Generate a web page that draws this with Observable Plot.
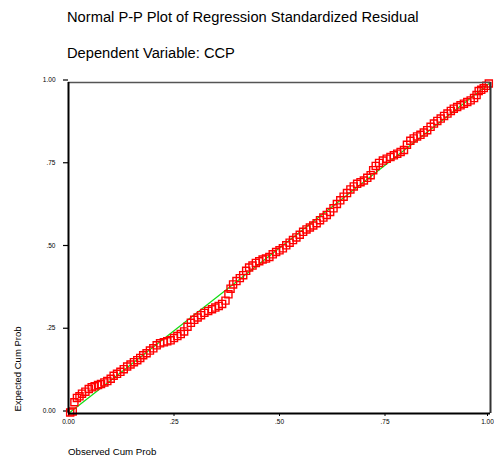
<!DOCTYPE html>
<html>
<head>
<meta charset="utf-8">
<script src="https://cdn.jsdelivr.net/npm/d3@7"></script>
<script src="https://cdn.jsdelivr.net/npm/@observablehq/plot@0.6"></script>
<style>
  html, body { margin: 0; padding: 0; background: #fff; }
  #wrap { position: relative; width: 494px; height: 463px; font-family: "Liberation Sans", Arial, sans-serif; color: #000; }
  .t { position: absolute; white-space: nowrap; line-height: 1; }
  #chart { position: absolute; left: 0; top: 0; }
</style>
</head>
<body>
<div id="wrap">
  <div id="chart"></div>
  <div class="t" style="left:67px; top:9.5px; font-size:14.7px;">Normal P-P Plot of Regression Standardized Residual</div>
  <div class="t" style="left:67px; top:45.5px; font-size:14.7px;">Dependent Variable: CCP</div>
  <div class="t" style="left:68px; top:447px; font-size:9.7px;">Observed Cum Prob</div>
  <div class="t" style="left:-32px; top:363px; width:100px; height:12px; line-height:12px; text-align:center; font-size:9.5px; transform: rotate(-90deg);">Expected Cum Prob</div>
</div>
<script>
const observed = [
  0.004, 0.010, 0.014, 0.020, 0.026, 0.032, 0.040, 0.048, 0.055, 0.062,
  0.070, 0.077, 0.085, 0.092, 0.100, 0.107, 0.115, 0.123, 0.131, 0.139,
  0.147, 0.155, 0.163, 0.170, 0.177, 0.185, 0.193, 0.201, 0.209, 0.217,
  0.226, 0.234, 0.242, 0.250, 0.258, 0.266, 0.274, 0.282, 0.290, 0.298,
  0.306, 0.314, 0.322, 0.331, 0.340, 0.348, 0.356, 0.364, 0.372, 0.379,
  0.384, 0.390, 0.398, 0.406, 0.414, 0.421, 0.428, 0.436, 0.444, 0.452,
  0.460, 0.468, 0.476, 0.484, 0.492, 0.500, 0.508, 0.516, 0.524, 0.532,
  0.540, 0.548, 0.556, 0.564, 0.572, 0.580, 0.588, 0.596, 0.604, 0.612,
  0.620, 0.628, 0.636, 0.644, 0.652, 0.660, 0.668, 0.676, 0.684, 0.692,
  0.700, 0.708, 0.716, 0.722, 0.728, 0.736, 0.745, 0.754, 0.763, 0.771,
  0.779, 0.787, 0.795, 0.802, 0.810, 0.818, 0.826, 0.834, 0.842, 0.850,
  0.858, 0.866, 0.874, 0.882, 0.890, 0.898, 0.906, 0.913, 0.921, 0.929,
  0.937, 0.945, 0.953, 0.961, 0.967, 0.972, 0.978, 0.984, 0.990, 0.996
];
const expected = [
  0.003, 0.006, 0.034, 0.047, 0.052, 0.060, 0.066, 0.074, 0.079, 0.082,
  0.086, 0.089, 0.094, 0.098, 0.105, 0.114, 0.120, 0.126, 0.134, 0.142,
  0.148, 0.155, 0.161, 0.168, 0.176, 0.182, 0.190, 0.197, 0.206, 0.212,
  0.215, 0.218, 0.221, 0.228, 0.234, 0.240, 0.248, 0.262, 0.274, 0.283,
  0.290, 0.297, 0.304, 0.310, 0.315, 0.320, 0.325, 0.331, 0.341, 0.360,
  0.377, 0.390, 0.400, 0.409, 0.418, 0.431, 0.441, 0.447, 0.455, 0.460,
  0.465, 0.468, 0.473, 0.481, 0.488, 0.493, 0.499, 0.508, 0.516, 0.524,
  0.532, 0.540, 0.549, 0.556, 0.562, 0.568, 0.575, 0.584, 0.592, 0.600,
  0.609, 0.620, 0.633, 0.644, 0.655, 0.666, 0.677, 0.686, 0.694, 0.699,
  0.704, 0.712, 0.720, 0.735, 0.748, 0.757, 0.764, 0.770, 0.775, 0.780,
  0.785, 0.790, 0.796, 0.812, 0.824, 0.831, 0.837, 0.842, 0.849, 0.856,
  0.866, 0.876, 0.884, 0.891, 0.899, 0.906, 0.914, 0.921, 0.926, 0.931,
  0.936, 0.941, 0.946, 0.953, 0.962, 0.974, 0.978, 0.983, 0.990, 0.997
];
const tickValues = [0, 0.25, 0.5, 0.75, 1];
const tickLabels = ["0.00", ".25", ".50", ".75", "1.00"];
const diagonal = [[0, 0], [1, 1]];

const points = observed.map((o, i) => ({obs: o, exp: expected[i]}));
const fmt = d => tickLabels[tickValues.indexOf(d)];

const chart = Plot.plot({
  width: 494,
  height: 463,
  marginLeft: 68,
  marginRight: 4,
  marginTop: 82,
  marginBottom: 50,
  style: {fontFamily: "'Liberation Sans', Arial, sans-serif", background: "#fff"},
  x: {domain: [0, 1]},
  y: {domain: [0, 1]},
  marks: [
    Plot.axisY({ticks: tickValues, tickFormat: fmt, tickSize: 5, tickPadding: 8, fontSize: 6.5, dy: -2.5, label: null, stroke: "#000", strokeWidth: 1.2}),
    Plot.axisX({ticks: tickValues.slice(0, 4), tickFormat: fmt, tickSize: 3, tickPadding: 3, fontSize: 6.5, label: null, stroke: "#000"}),
    Plot.axisX({ticks: tickValues.slice(4), tickFormat: fmt, tickSize: 3, tickPadding: 3, fontSize: 6.5, dx: -3, label: null, stroke: "#000"}),
    Plot.line(diagonal, {x: d => d[0], y: d => d[1], stroke: "#11dd11", strokeWidth: 1.2}),
    Plot.dot(points, {x: "obs", y: "exp", symbol: "square", r: 4, stroke: "#ff0000", strokeWidth: 1.4, fill: "none"}),
    Plot.ruleY([1], {stroke: "#555", strokeWidth: 1.5}),
    Plot.ruleX([1], {stroke: "#333", strokeWidth: 2}),
    Plot.ruleX([0], {stroke: "#000", strokeWidth: 2}),
    Plot.ruleY([0], {stroke: "#000", strokeWidth: 2})
  ]
});
document.getElementById("chart").appendChild(chart);
</script>
</body>
</html>
